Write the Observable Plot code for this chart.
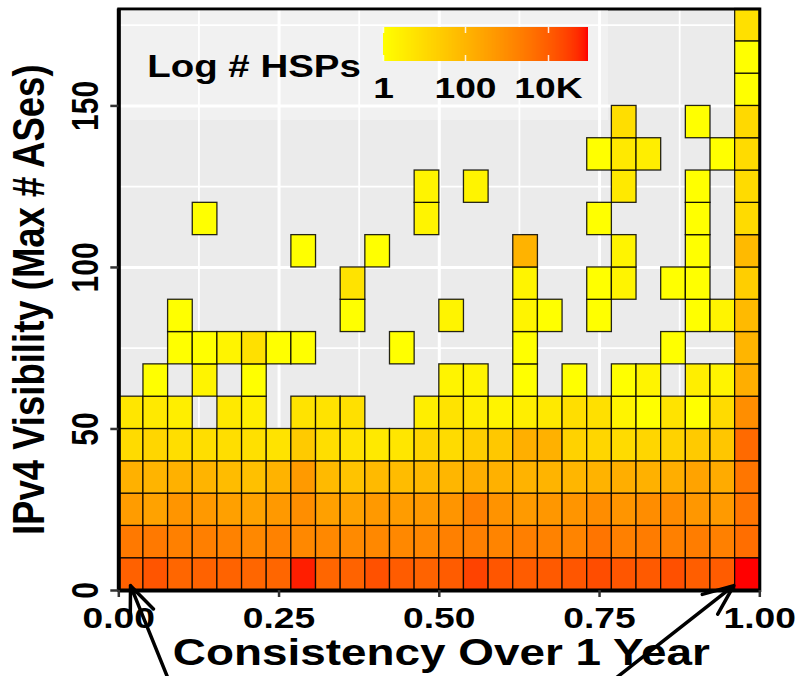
<!DOCTYPE html>
<html>
<head>
<meta charset="utf-8">
<script src="https://cdn.jsdelivr.net/npm/d3@7"></script>
<script src="https://cdn.jsdelivr.net/npm/@observablehq/plot@0.6"></script>
<style>
  html, body { margin: 0; padding: 0; background: white; }
  #chart { position: relative; width: 800px; height: 676px; overflow: hidden; }
  #legend-box { position: absolute; left: 121px; top: 10px; width: 487px; height: 110px; background: rgba(255,255,255,0.3); }
  #legend-title {
    position: absolute; left: 253.5px; top: 51px; white-space: nowrap;
    font: bold 31px "Liberation Sans", Arial, sans-serif; line-height: 31px; color: black;
    transform: translateX(-50%) scaleX(1.24);
  }
</style>
</head>
<body>
<div id="chart"></div>
<script>
const _ = null;

// Consistency is split into 26 equal bins over [0, 1]; visibility into bands of 10 ASes.
const consistencyBins = 26;
const visibilityStep = 10;

// Number of HSPs per cell: one array per visibility band, one entry per consistency bin.
const band000 = [9000, 15000, 7000, 8500, 8000, 7000, 7000, 70000, 7000, 8000, 17000, 11000, 8000, 11000, 28000, 14000, 11000, 12000, 14000, 20000, 14000, 12000, 18000, 10000, 11000, 95000];
const band010 = [2800, 2800, 2000, 2100, 1800, 1300, 1800, 1300, 1300, 1200, 1300, 1300, 1400, 2000, 2100, 1600, 2100, 1800, 1600, 3500, 2000, 2500, 2000, 2300, 2000, 5000];
const band020 = [420, 300, 650, 520, 340, 300, 520, 950, 340, 300, 520, 420, 520, 650, 2100, 700, 470, 580, 650, 1000, 650, 1000, 1100, 580, 470, 3500];
const band030 = [130, 105, 130, 105, 65, 50, 115, 470, 75, 42, 75, 65, 85, 95, 150, 130, 115, 105, 95, 115, 150, 130, 150, 280, 180, 3300];
const band040 = [10, 13, 8, 8, 8, 7, 6, 28, 8, 6, 4, 5, 14, 10, 22, 31, 140, 130, 17, 13, 10, 13, 17, 28, 35, 6000];
const band050 = [5, 4, 3, _, 4, 3, _, 6, 6, 7, _, _, 3, 6, 3, 2, 3, 4, 8, 7, 2, 1, 6, 1, 10, 950];
const band060 = [_, 1, _, 2, _, 1, _, _, _, _, _, _, _, 2, 2, _, 1, _, 1, _, 1, 2, _, 3, 2, 150];
const band070 = [_, _, 1, 1, 2, 7, 1, 1, _, _, _, 1, _, _, _, _, 1, _, _, _, _, _, 1, _, _, 100];
const band080 = [_, _, 1, _, _, _, _, _, _, 1, _, _, _, 2, _, _, 2, 1, _, 1, _, _, _, 1, 2, 75];
const band090 = [_, _, _, _, _, _, _, _, _, 6, _, _, _, _, _, _, 2, _, _, 1, 2, _, 1, 1, _, 22];
const band100 = [_, _, _, _, _, _, _, 1, _, _, 1, _, _, _, _, _, 110, _, _, _, 2, _, _, 1, _, 75];
const band110 = [_, _, _, 1, _, _, _, _, _, _, _, _, 2, _, _, _, _, _, _, 1, _, _, _, 1, _, 10];
const band120 = [_, _, _, _, _, _, _, _, _, _, _, _, 2, _, 2, _, _, _, _, _, 4, _, _, 1, _, 10];
const band130 = [_, _, _, _, _, _, _, _, _, _, _, _, _, _, _, _, _, _, _, 1, 4, 3, _, _, 1, 10];
const band140 = [_, _, _, _, _, _, _, _, _, _, _, _, _, _, _, _, _, _, _, _, 8, _, _, 1, _, 11];
const band150 = [_, _, _, _, _, _, _, _, _, _, _, _, _, _, _, _, _, _, _, _, _, _, _, _, _, 1];
const band160 = [_, _, _, _, _, _, _, _, _, _, _, _, _, _, _, _, _, _, _, _, _, _, _, _, _, 1];
const band170 = [_, _, _, _, _, _, _, _, _, _, _, _, _, _, _, _, _, _, _, _, _, _, _, _, _, 7];

const bands = [band000, band010, band020, band030, band040, band050, band060, band070, band080,
               band090, band100, band110, band120, band130, band140, band150, band160, band170];

const xTicks = [0, 0.25, 0.5, 0.75, 1];
const xMinor = [0.125, 0.375, 0.625, 0.875];
const yTicks = [0, 50, 100, 150];
const yMinor = [25, 75, 125, 175];
const legendTicks = [1, 100, 10000];

// Callout arrows pointing at the two corner cells (data coordinates).
const callouts = [
  {x1: 0.0906, y1: -34, x2: 0.0183, y2: 1.5},
  {x1: 0.7312, y1: -34, x2: 0.9594, y2: 1.5}
];

const cells = [];
bands.forEach((row, r) => row.forEach((count, c) => {
  if (count == null) return;
  cells.push({
    x1: c / consistencyBins, x2: (c + 1) / consistencyBins,
    y1: r * visibilityStep, y2: (r + 1) * visibilityStep,
    count
  });
}));
const maxCount = d3.max(cells, d => d.count);

const formatCount = d => d >= 1000 ? `${d / 1000}K` : `${d}`;
const font = "'Liberation Sans', Arial, sans-serif";

const chart = Plot.plot({
  width: 800,
  height: 676,
  marginLeft: 118.3,
  marginRight: 40.7,
  marginTop: 8.5,
  marginBottom: 86,
  x: {domain: [0, 1], label: null},
  y: {domain: [0, 180], label: null},
  color: {type: "log", domain: [1, maxCount], range: ["yellow", "red"], interpolate: d3.interpolateLab, label: null},
  style: {fontFamily: font, fontWeight: "bold", background: "white", overflow: "visible", color: "black"},
  marks: [
    Plot.frame({fill: "#ebebeb"}),
    Plot.ruleX(xMinor, {stroke: "white", strokeWidth: 1.8}),
    Plot.ruleY(yMinor, {stroke: "white", strokeWidth: 1.8}),
    Plot.ruleX(xTicks, {stroke: "white", strokeWidth: 3}),
    Plot.ruleY(yTicks, {stroke: "white", strokeWidth: 3}),
    Plot.rect(cells, {x1: "x1", x2: "x2", y1: "y1", y2: "y2", fill: "count", stroke: "black", strokeWidth: 1.3, strokeOpacity: 0.85}),
    Plot.frame({stroke: "black", strokeWidth: 3}),
    Plot.ruleX([0], {stroke: "black", strokeWidth: 4}),
    Plot.ruleY([0], {stroke: "black", strokeWidth: 4}),
    Plot.axisX({ticks: xTicks, tickFormat: d3.format(".2f"), tickSize: 7, tickPadding: 9, fontSize: 30,
                stroke: "#333", strokeWidth: 2.5, fill: "black", label: null}),
    Plot.axisY({ticks: yTicks, tickFormat: d => `${d}`, tickRotate: -90, tickSize: 8, tickPadding: 15, fontSize: 30,
                stroke: "#333", strokeWidth: 2.5, fill: "black", label: null}),
    Plot.text(["Consistency Over 1 Year"], {text: d => d, frameAnchor: "bottom", dx: 2, dy: 74,
                textAnchor: "middle", lineAnchor: "bottom", fontSize: 37, fill: "black"}),
    Plot.text(["IPv4 Visibility (Max # ASes)"], {text: d => d, frameAnchor: "left", rotate: -90, dx: -77.7,
                textAnchor: "middle", lineAnchor: "bottom", fontSize: 36.5, fill: "black"}),
    Plot.arrow(callouts, {x1: "x1", y1: "y1", x2: "x2", y2: "y2", stroke: "black", strokeWidth: 3.5,
                headLength: 14, headAngle: 45})
  ]
});

const root = document.getElementById("chart");
root.append(chart);

const box = document.createElement("div");
box.id = "legend-box";
root.append(box);

const legendMargin = 30;
const legend = chart.legend("color", {
  width: 205 + 2 * legendMargin,
  height: 84,
  marginLeft: legendMargin,
  marginRight: legendMargin,
  marginTop: 0,
  marginBottom: 50,
  ticks: legendTicks,
  tickSize: 0,
  tickFormat: formatCount,
  label: null
});
Object.assign(legend.style, {
  position: "absolute", left: `${383 - legendMargin}px`, top: "27px",
  background: "transparent", overflow: "visible", maxWidth: "none",
  fontFamily: font, fontSize: "30px", fontWeight: "bold", color: "black"
});
legend.querySelectorAll(".tick line").forEach(l => {
  l.setAttribute("stroke", "white");
  l.setAttribute("stroke-opacity", 0.85);
  l.setAttribute("stroke-width", 1.5);
  l.setAttribute("stroke-dasharray", "6 22 6");
});
legend.querySelectorAll(".tick text").forEach(t => t.setAttribute("y", 16));
root.append(legend);

const title = document.createElement("div");
title.id = "legend-title";
title.textContent = "Log # HSPs";
root.append(title);

// The lettering is set wide: scale each SVG label horizontally about its own centre.
function widenText(svg, k) {
  svg.querySelectorAll("text").forEach(t => {
    const g = document.createElementNS("http://www.w3.org/2000/svg", "g");
    t.parentNode.insertBefore(g, t);
    g.appendChild(t);
    const b = g.getBBox();
    const cx = b.x + b.width / 2;
    g.setAttribute("transform", `translate(${cx},0) scale(${k},1) translate(${-cx},0)`);
  });
}
widenText(chart, 1.24);
widenText(legend, 1.24);
</script>
</body>
</html>
